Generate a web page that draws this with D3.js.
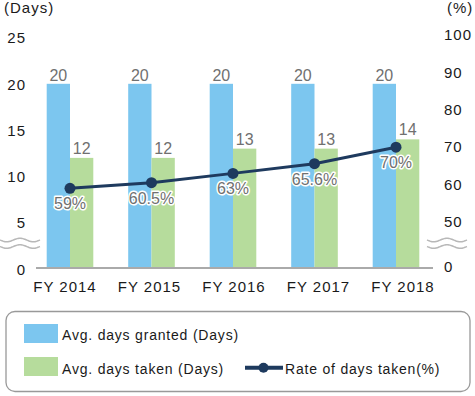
<!DOCTYPE html>
<html><head><meta charset="utf-8">
<script src="https://cdn.jsdelivr.net/npm/d3@7/dist/d3.min.js"></script>
<style>
html,body{margin:0;padding:0;background:#fff;}
svg{display:block;font-family:"Liberation Sans",Arial,sans-serif;}
</style></head>
<body>
<svg id="c" width="475" height="396"></svg>
<script>
const categories = ["FY 2014","FY 2015","FY 2016","FY 2017","FY 2018"];
const daysGranted = [20,20,20,20,20];
const daysTaken = [12,12,13,13,14];
const rateTaken = [59,60.5,63,65.6,70];
const rateLabels = ["59%","60.5%","63%","65.6%","70%"];
const leftTicks = [0,5,10,15,20,25];
const rightTicks = [0,50,60,70,80,90,100];

const svg = d3.select("#c");
const blue = "#7cc6ef", green = "#b6dc9c", navy = "#1e3a5e", labGrey = "#707070", txt = "#1a1a1a";

const yL = d3.scaleLinear().domain([0,25]).range([269,37.5]);
const yR = d3.scaleLinear().domain([0,50,100]).range([268,222,35]);
const xC = d3.scalePoint().domain(categories).range([70,396]);
const xLab = d3.scalePoint().domain(categories).range([65,403]);
const bw = 23.3;

// baseline
svg.append("line").attr("x1",36).attr("x2",433).attr("y1",268).attr("y2",268)
  .attr("stroke","#aaaaaa").attr("stroke-width",2);

// bars
svg.selectAll("rect.g").data(categories).enter().append("rect")
  .attr("x",d=>xC(d)-bw).attr("width",bw)
  .attr("y",(d,i)=>yL(daysGranted[i])).attr("height",(d,i)=>267-yL(daysGranted[i]))
  .attr("fill",blue);
svg.selectAll("rect.t").data(categories).enter().append("rect")
  .attr("x",d=>xC(d)).attr("width",bw)
  .attr("y",(d,i)=>yL(daysTaken[i])).attr("height",(d,i)=>267-yL(daysTaken[i]))
  .attr("fill",green);

// bar labels
const valStyle = s => s.attr("font-size",16).attr("fill",labGrey).attr("text-anchor","middle")
  .attr("stroke","#fff").attr("stroke-width",3).attr("paint-order","stroke").attr("stroke-linejoin","round");
categories.forEach((c,i)=>{
  svg.append("text").attr("x",xC(c)-bw/2).attr("y",yL(daysGranted[i])-3).text(daysGranted[i]).call(valStyle);
  svg.append("text").attr("x",xC(c)+bw/2).attr("y",yL(daysTaken[i])-4).text(daysTaken[i]).call(valStyle);
});

// line
const line = d3.line().x((d,i)=>xC(categories[i])).y(d=>yR(d));
svg.append("path").datum(rateTaken).attr("d",line).attr("fill","none")
  .attr("stroke",navy).attr("stroke-width",3);
svg.selectAll("circle.p").data(rateTaken).enter().append("circle")
  .attr("cx",(d,i)=>xC(categories[i])).attr("cy",d=>yR(d)).attr("r",5.5).attr("fill",navy);
rateTaken.forEach((v,i)=>{
  svg.append("text").attr("x",xC(categories[i])).attr("y",yR(v)+15.5).attr("dy","0.35em")
    .text(rateLabels[i]).call(valStyle);
});

// axis tick labels
const tickStyle = s => s.attr("font-size",15).attr("fill",txt).attr("dy","0.35em").attr("letter-spacing",1);
svg.selectAll("text.yl").data(leftTicks).enter().append("text")
  .attr("x",26).attr("y",d=>yL(d)+0.5).attr("text-anchor","end").text(d=>d).call(tickStyle);
svg.selectAll("text.yr").data(rightTicks).enter().append("text")
  .attr("x",444).attr("y",d=>yR(d)+(d===0?-1:0)).attr("text-anchor","start").text(d=>d).call(tickStyle);
svg.selectAll("text.xl").data(categories).enter().append("text")
  .attr("x",d=>xLab(d)).attr("y",287).attr("text-anchor","middle").text(d=>d).call(tickStyle);

svg.append("text").attr("x",4).attr("y",8).text("(Days)").call(tickStyle);
svg.append("text").attr("x",447).attr("y",8).text("(%)").call(tickStyle);

// break symbols
function wave(x0, y0){
  const pts = d3.range(0,41).map(k=>[x0+k, y0+1.8*Math.sin(k/40*Math.PI*3)]);
  return d3.line().curve(d3.curveBasis)(pts);
}
[[0,240],[0,246.5],[427,240],[427,246.5]].forEach(([x,y])=>{
  svg.append("path").attr("d",wave(x,y)).attr("fill","none").attr("stroke","#b8b8b8").attr("stroke-width",1.5);
});

// legend
svg.append("rect").attr("x",6).attr("y",311.5).attr("width",464).attr("height",80).attr("rx",9)
  .attr("fill","#fff").attr("stroke","#999").attr("stroke-width",1.3);
svg.append("rect").attr("x",24).attr("y",324).attr("width",34).attr("height",19).attr("fill",blue);
svg.append("rect").attr("x",24).attr("y",357).attr("width",34).attr("height",19).attr("fill",green);
const legStyle = s => s.attr("font-size",14).attr("fill",txt).attr("letter-spacing",0.8);
svg.append("text").attr("x",62).attr("y",340).text("Avg. days granted (Days)").call(legStyle);
svg.append("text").attr("x",62).attr("y",374).text("Avg. days taken (Days)").call(legStyle);
svg.append("line").attr("x1",245).attr("x2",283).attr("y1",367.7).attr("y2",367.7).attr("stroke",navy).attr("stroke-width",4);
svg.append("circle").attr("cx",263.5).attr("cy",367.7).attr("r",5).attr("fill",navy);
svg.append("text").attr("x",285).attr("y",374).text("Rate of days taken(%)").call(legStyle);
</script>
</body></html>
